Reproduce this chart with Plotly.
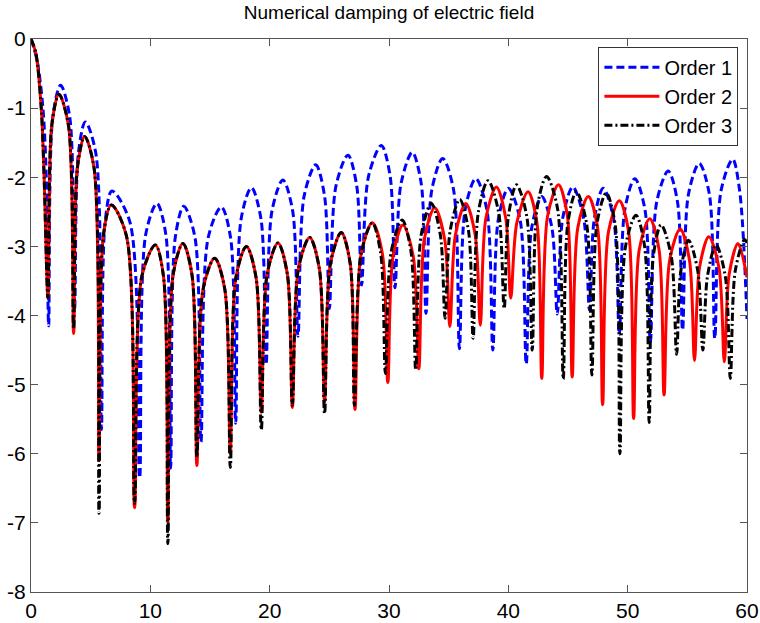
import plotly.graph_objects as go

# Points (troughs, shoulders and peaks).
# ---- Order 1 (blue dashed)
order1_x = [0, 0.5, 1.0, 1.28, 1.48, 1.83, 2.48, 3.24, 3.65, 3.97, 4.55, 5.43, 5.9, 6.21, 6.78,
            8.29, 9.1, 9.61, 10.55, 11.3, 11.7, 12.09, 12.8, 13.74, 14.24, 14.84, 15.95, 16.73,
            17.15, 17.61, 18.47, 19.27, 19.7, 20.19, 21.11, 21.93, 22.37, 22.89, 23.86, 24.6,
            25.0, 25.55, 26.56, 27.3, 27.7, 28.28, 29.36, 30.1, 30.5, 31.01, 31.95, 32.7, 33.1,
            33.59, 34.5, 35.41, 35.9, 36.38, 37.27, 38.2, 38.7, 39.16, 40.0, 40.98, 41.5, 41.96,
            42.8, 43.65, 44.1, 44.56, 45.4, 46.31, 46.8, 47.2, 47.95, 48.83, 49.3, 49.76, 50.6,
            51.45, 51.9, 52.43, 53.4, 54.18, 54.6, 55.09, 56.0, 56.85, 57.3, 57.83, 58.8, 59.38, 60.0]
order1_y = [0, -0.3, -1.0, -2.0, -4.15, -1.12, -0.67, -1.12, -3.9, -1.65, -1.2, -1.65, -5.65, -2.65, -2.2,
            -2.65, -6.35, -2.83, -2.38, -2.83, -6.21, -2.87, -2.42, -2.87, -5.83, -2.88, -2.43, -2.88,
            -5.56, -2.6, -2.15, -2.6, -4.71, -2.49, -2.04, -2.49, -4.3, -2.27, -1.82, -2.27,
            -3.9, -2.13, -1.68, -2.13, -3.56, -1.99, -1.54, -1.99, -3.6, -2.09, -1.64, -2.09, -3.97,
            -2.18, -1.73, -2.18, -4.48, -2.47, -2.02, -2.47, -4.5, -2.61, -2.16, -2.61, -4.7, -2.73,
            -2.28, -2.73, -3.98, -2.59, -2.14, -2.59, -3.92, -2.61, -2.16, -2.61, -4.28, -2.47, -2.02,
            -2.47, -4.38, -2.36, -1.91, -2.36, -4.21, -2.25, -1.80, -2.25, -4.33, -2.19, -1.74, -2.19, -4.05]

# ---- Order 2 (red solid)
order2_x = [0, 0.4, 0.86, 1.1, 1.42, 1.74, 2.34, 3.14, 3.57, 3.89, 4.49, 5.28, 5.7, 6.06, 6.73,
            8.0, 8.68, 9.29, 10.42, 11.1, 11.47, 11.91, 12.73, 13.49, 13.9, 14.42, 15.39, 16.24,
            16.7, 17.17, 18.05, 18.86, 19.3, 19.79, 20.7, 21.48, 21.9, 22.41, 23.35, 24.16, 24.6,
            25.09, 26.0, 26.75, 27.15, 27.66, 28.6, 29.45, 29.9, 30.34, 31.17, 32.03, 32.5, 32.97,
            33.83, 34.66, 35.1, 35.57, 36.43, 37.22, 37.65, 38.12, 39.0, 39.78, 40.2, 40.71, 41.65,
            42.4, 42.8, 43.29, 44.2, 44.95, 45.35, 45.82, 46.7, 47.48, 47.9, 48.39, 49.3, 50.08,
            50.5, 50.97, 51.85, 52.63, 53.05, 53.52, 54.4, 55.18, 55.6, 56.02, 56.8, 57.65, 58.1,
            58.5, 59.25, 60.0]
order2_y = [0, -0.2, -1.0, -2.0, -3.75, -1.25, -0.8, -1.25, -4.26, -1.86, -1.41, -1.86, -6.1, -2.85, -2.40,
            -2.85, -6.78, -3.43, -2.98, -3.43, -7.0, -3.41, -2.96, -3.41, -6.17, -3.62, -3.17, -3.62,
            -6.0, -3.45, -3.0, -3.45, -5.4, -3.4, -2.95, -3.4, -5.33, -3.32, -2.87, -3.32, -5.25,
            -3.25, -2.80, -3.25, -5.36, -3.11, -2.66, -3.11, -4.97, -3.14, -2.69, -3.14, -4.77, -2.89,
            -2.44, -2.89, -4.16, -2.83, -2.38, -2.83, -4.14, -2.59, -2.14, -2.59, -3.75, -2.66, -2.21,
            -2.66, -4.91, -2.56, -2.11, -2.56, -4.89, -2.73, -2.28, -2.73, -5.29, -2.79, -2.34, -2.79,
            -5.49, -3.05, -2.60, -3.05, -5.15, -3.2, -2.75, -3.2, -4.65, -3.31, -2.86, -3.31, -4.67,
            -3.41, -2.96, -3.45]

# ---- Order 3 (black dash-dot)
order3_x = [0, 0.4, 0.86, 1.1, 1.42, 1.74, 2.34, 3.14, 3.57, 3.89, 4.49, 5.28, 5.7, 6.06, 6.73,
            8.0, 8.68, 9.29, 10.42, 11.1, 11.47, 11.91, 12.73, 13.49, 13.9, 14.42, 15.39, 16.24,
            16.7, 17.17, 18.05, 18.86, 19.3, 19.79, 20.7, 21.48, 21.9, 22.41, 23.35, 24.16, 24.6,
            25.09, 26.0, 26.75, 27.1, 27.66, 28.6, 29.31, 29.7, 30.19, 31.1, 31.84, 32.24, 32.7,
            33.55, 34.3, 34.7, 35.13, 35.93, 36.66, 37.05, 37.49, 38.3, 39.18, 39.65, 40.01, 40.68,
            41.54, 42.0, 42.42, 43.2, 44.11, 44.6, 44.99, 45.7, 46.55, 47.0, 47.42, 48.2, 48.95,
            49.35, 49.82, 50.7, 51.42, 51.8, 52.15, 52.8, 53.65, 54.1, 54.45, 55.1, 55.88, 56.3,
            56.69, 57.4, 58.18, 58.6, 59.02, 59.8, 60.0]
order3_y = [0, -0.2, -1.0, -2.0, -3.75, -1.25, -0.8, -1.25, -4.2, -1.86, -1.41, -1.86, -6.86, -2.85, -2.40,
            -2.85, -6.72, -3.43, -2.98, -3.43, -7.3, -3.41, -2.96, -3.41, -6.05, -3.62, -3.17, -3.62,
            -6.2, -3.45, -3.0, -3.45, -5.65, -3.4, -2.95, -3.4, -5.3, -3.32, -2.87, -3.32, -5.42,
            -3.25, -2.80, -3.25, -5.3, -3.11, -2.66, -3.11, -4.84, -3.07, -2.62, -3.07, -4.79, -2.83,
            -2.38, -2.83, -4.04, -2.77, -2.32, -2.77, -4.33, -2.5, -2.05, -2.5, -3.9, -2.56, -2.11,
            -2.56, -4.5, -2.44, -1.99, -2.44, -4.92, -2.66, -2.21, -2.66, -4.86, -2.68, -2.23, -2.68,
            -6.0, -3.0, -2.55, -3.0, -5.55, -3.14, -2.69, -3.14, -4.56, -3.36, -2.91, -3.36, -4.5,
            -3.43, -2.98, -3.43, -4.91, -3.35, -2.9, -2.95]

x_ticks = [0, 10, 20, 30, 40, 50, 60]
y_ticks = [0, -1, -2, -3, -4, -5, -6, -7, -8]

FONT = "Liberation Sans, Arial, Helvetica, sans-serif"

fig = go.Figure()
fig.add_trace(go.Scatter(x=order1_x, y=order1_y, mode="lines", name="Order 1",
                         line=dict(color="#0000ff", width=3, dash="8px,4px", shape="spline", smoothing=0.9)))
fig.add_trace(go.Scatter(x=order2_x, y=order2_y, mode="lines", name="Order 2",
                         line=dict(color="#ff0000", width=3, shape="spline", smoothing=0.9)))
fig.add_trace(go.Scatter(x=order3_x, y=order3_y, mode="lines", name="Order 3",
                         line=dict(color="#000000", width=3, dash="8px,3px,2px,3px", shape="spline", smoothing=0.9)))

axis_common = dict(showgrid=False, zeroline=False, showline=True, linecolor="#555555", linewidth=1,
                   mirror="ticks", ticks="inside", ticklen=7, tickcolor="#555555", automargin=False,
                   tickfont=dict(family=FONT, size=21, color="black"))

fig.update_layout(
    width=760, height=623,
    margin=dict(l=31, r=13, t=39, b=31),
    paper_bgcolor="white", plot_bgcolor="white",
    title=dict(text="Numerical damping of electric field", x=0.5, xref="paper", xanchor="center",
               y=1 - 12 / 623, yanchor="middle", font=dict(family=FONT, size=19, color="black")),
    xaxis=dict(range=[0, 60], tickvals=x_ticks, ticktext=[str(v) for v in x_ticks],
               ticklabelstandoff=0, **axis_common),
    yaxis=dict(range=[-8, 0], tickvals=y_ticks, ticktext=[str(v) for v in y_ticks],
               ticklabelstandoff=0, **axis_common),
    legend=dict(x=0.988, y=0.986, xanchor="right", yanchor="top", bgcolor="white",
                bordercolor="#333333", borderwidth=1, itemwidth=55,
                font=dict(family=FONT, size=20, color="black"), tracegroupgap=0),
    showlegend=True,
)

fig.write_html("out.html")
